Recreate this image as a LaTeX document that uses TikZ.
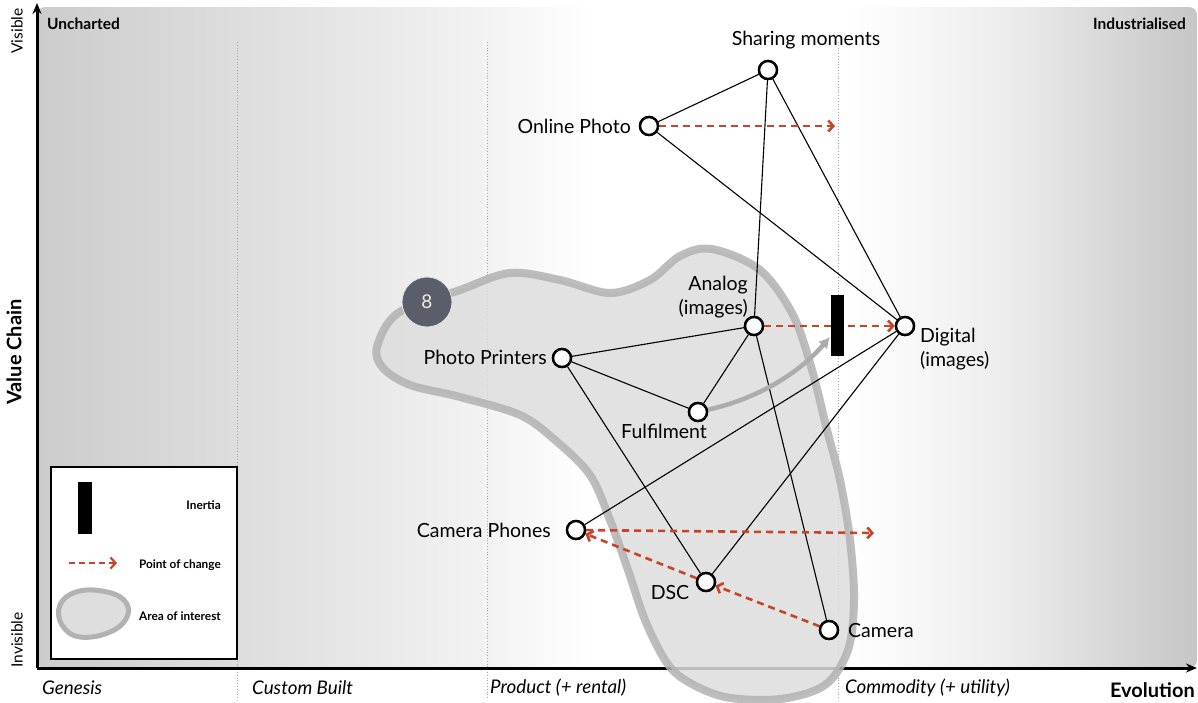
\documentclass[tikz,border=0pt]{standalone}
\usepackage{fontspec}
\setmainfont{Lato}
\usetikzlibrary{arrows.meta}
\definecolor{chg}{RGB}{200,68,40}
\definecolor{blobfill}{RGB}{222,222,222}
\definecolor{blobline}{RGB}{178,178,178}
\definecolor{badgefill}{RGB}{90,94,106}
\definecolor{bgA}{RGB}{204,204,204}
\definecolor{bgB}{RGB}{218,218,218}
\definecolor{bgC}{RGB}{242,242,242}
\definecolor{bgD}{RGB}{236,236,236}
\definecolor{bgE}{RGB}{198,198,198}
\pgfdeclarehorizontalshading{bgshade}{100bp}{color(0bp)=(bgA); color(25bp)=(bgA); color(32bp)=(bgB); color(44bp)=(bgC); color(49bp)=(white); color(60bp)=(white); color(67bp)=(bgD); color(75bp)=(bgE); color(100bp)=(bgE)}
\begin{document}
\begin{tikzpicture}[x=1pt,y=-1pt,
  ptnode/.style={circle,draw=black,fill=white,line width=2.4pt,minimum size=18pt,inner sep=0pt},
  lbl/.style={font=\fontsize{19.5}{23.5}\selectfont,inner sep=0pt},
  phase/.style={font=\fontsize{18.8}{21}\selectfont\itshape,inner sep=0pt},
  ttl/.style={font=\fontsize{15.5}{18}\selectfont\bfseries,inner sep=0pt},
  leg/.style={font=\fontsize{11.8}{14}\selectfont\bfseries,inner sep=0pt},
  edge/.style={draw=black,line width=1.1pt},
  chgarrow/.style={draw=chg,line width=2.6pt,dash pattern=on 7pt off 5pt,-{Straight Barb[length=5pt,width=11pt]}},
  axisline/.style={draw=black,line width=3pt,-{Stealth[length=11pt,width=9pt]}},
  divider/.style={draw=gray!70,line width=0.8pt,dotted},
  area/.style={fill=blobfill,draw=blobline,line width=8pt,opacity=0.85},
  inertia/.style={fill=black,draw=none,minimum width=13pt,minimum height=61pt,inner sep=0pt},
  badge/.style={circle,fill=badgefill,draw=white!80!gray,line width=0.8pt,minimum size=50pt,inner sep=0pt,text=white!85!gray,font=\fontsize{19}{20}\selectfont}
]
\useasboundingbox (0,0) rectangle (1198,702);
\fill[white] (0,0) rectangle (1198,702);
% background
\shade[shading=bgshade,rounded corners=8pt] (37,668) -- (37,7) -- (1197,7) -- (1197,668) -- cycle;
% dividers
\draw[divider] (237,42) -- (237,700);
\draw[divider] (487,42) -- (487,700);
\draw[divider] (838,42) -- (838,700);
% axes
\coordinate (origin) at (37,668);
\coordinate (ytop) at (37,3);
\coordinate (xend) at (1197,668);
\draw[axisline] (origin) -- (ytop);
\draw[axisline] (origin) -- (xend);
% axis texts
\node[ttl,anchor=west] (uncharted) at (47,24) {Uncharted};
\node[ttl,anchor=east] (industr) at (1186,24) {Industrialised};
\node[font=\fontsize{15.5}{17}\selectfont,rotate=90,inner sep=0pt] (visible) at (17,31) {Visible};
\node[font=\fontsize{15.5}{17}\selectfont,rotate=90,inner sep=0pt] (invisible) at (17,640) {Invisible};
\node[font=\fontsize{20}{22}\selectfont\bfseries,rotate=90,inner sep=0pt] (vchain) at (14,352) {Value Chain};
\node[font=\fontsize{20}{22}\selectfont\bfseries,anchor=east,inner sep=0pt] (evol) at (1195,690) {Evolution};
\node[phase,anchor=west] (genesis) at (42,688) {Genesis};
\node[phase,anchor=west] (custom) at (252,688) {Custom Built};
\node[phase,anchor=west] (product) at (490,688) {Product (+ rental)};
\node[phase,anchor=west] (commodity) at (845,688) {Commodity (+ utility)};
% area of interest
\draw[area] plot[smooth cycle,tension=0.55] coordinates {(377,347) (398,313) (460,290) (510,273) (560,280) (610,293) (650,280) (680,256) (712,249) (760,270) (793,315) (812,370) (827,430) (840,480) (850,540) (854,600) (848,650) (825,685) (780,699) (725,697) (685,680) (665,660) (645,620) (628,570) (610,520) (590,475) (555,440) (520,415) (460,397) (410,385) (383,368)};
\node[badge] (eight) at (427,302) {8};
% legend
\node[draw=black,fill=white,line width=1.2pt,minimum width=186pt,minimum height=192pt,inner sep=0pt] (legend) at (144,563) {};
\node[inertia,minimum height=52pt,minimum width=14pt] (leginertia) at (85,508) {};
\node[leg,anchor=east] (leginertiaT) at (221,505) {Inertia};
\coordinate (legA) at (69,563);
\coordinate (legB) at (117,563);
\draw[chgarrow,dash pattern=on 6pt off 4pt,line width=2.2pt] (legA) -- (legB);
\node[leg,anchor=east] (legchangeT) at (221,565) {Point of change};
\draw[fill=blobfill,draw=blobline,line width=5pt] plot[smooth cycle,tension=0.7] coordinates {(60,605) (76,592) (102,591) (124,600) (127,617) (110,632) (80,637) (62,625)};
\node[leg,anchor=east] (legareaT) at (221,616) {Area of interest};
% nodes
\node[ptnode] (sharing) at (768,70) {};
\node[ptnode] (online) at (649,126) {};
\node[ptnode] (analog) at (754,326) {};
\node[ptnode] (digital) at (905,326) {};
\node[ptnode] (printers) at (562,358) {};
\node[ptnode] (fulfil) at (698,412) {};
\node[ptnode] (phones) at (576,530) {};
\node[ptnode] (dsc) at (706,582) {};
\node[ptnode] (camera) at (829,630) {};
% edges
\draw[edge] (sharing) -- (online);
\draw[edge] (sharing) -- (analog);
\draw[edge] (sharing) -- (digital);
\draw[edge] (online) -- (digital);
\draw[edge] (printers) -- (analog);
\draw[edge] (printers) -- (fulfil);
\draw[edge] (printers) -- (dsc);
\draw[edge] (fulfil) -- (analog);
\draw[edge] (analog) -- (camera);
\draw[edge] (phones) -- (digital);
\draw[edge] (dsc) -- (digital);
% change arrows
\coordinate (onlineEnd) at (835,126);
\coordinate (phonesEnd) at (874,533);
\draw[chgarrow] (online) -- (onlineEnd);
\draw[chgarrow] (analog) -- (digital);
\draw[chgarrow] (phones) -- (phonesEnd);
\draw[chgarrow] (dsc) -- (phones);
\draw[chgarrow] (camera) -- (dsc);
% inertia arrow
\coordinate (inertiaTip) at (830,337);
\draw[draw=gray!65,line width=4.5pt,-{Latex[length=11pt,width=12pt]}] (fulfil) .. controls (760,398) and (800,372) .. (inertiaTip);
\node[inertia] (bar) at (837.5,325.5) {};
% circles on top of connectors
\foreach \p in {(768,70),(649,126),(754,326),(905,326),(562,358),(698,412),(576,530),(706,582),(829,630)}{
  \node[ptnode] at \p {};
}
% labels
\node[lbl] (sharingL) at (806,40) {Sharing moments};
\node[lbl,anchor=east] (onlineL) at (631,126) {Online Photo};
\node[lbl,anchor=east,align=right] (analogL) at (748,297) {Analog\\(images)};
\node[lbl,anchor=west,align=left] (digitalL) at (920,349) {Digital\\(images)};
\node[lbl,anchor=east] (printersL) at (547,357) {Photo Printers};
\node[lbl] (fulfilL) at (664,431) {Fulfilment};
\node[lbl,anchor=east] (phonesL) at (551,530) {Camera Phones};
\node[lbl] (dscL) at (670,593) {DSC};
\node[lbl,anchor=west] (cameraL) at (848,631) {Camera};
\end{tikzpicture}
\end{document}
